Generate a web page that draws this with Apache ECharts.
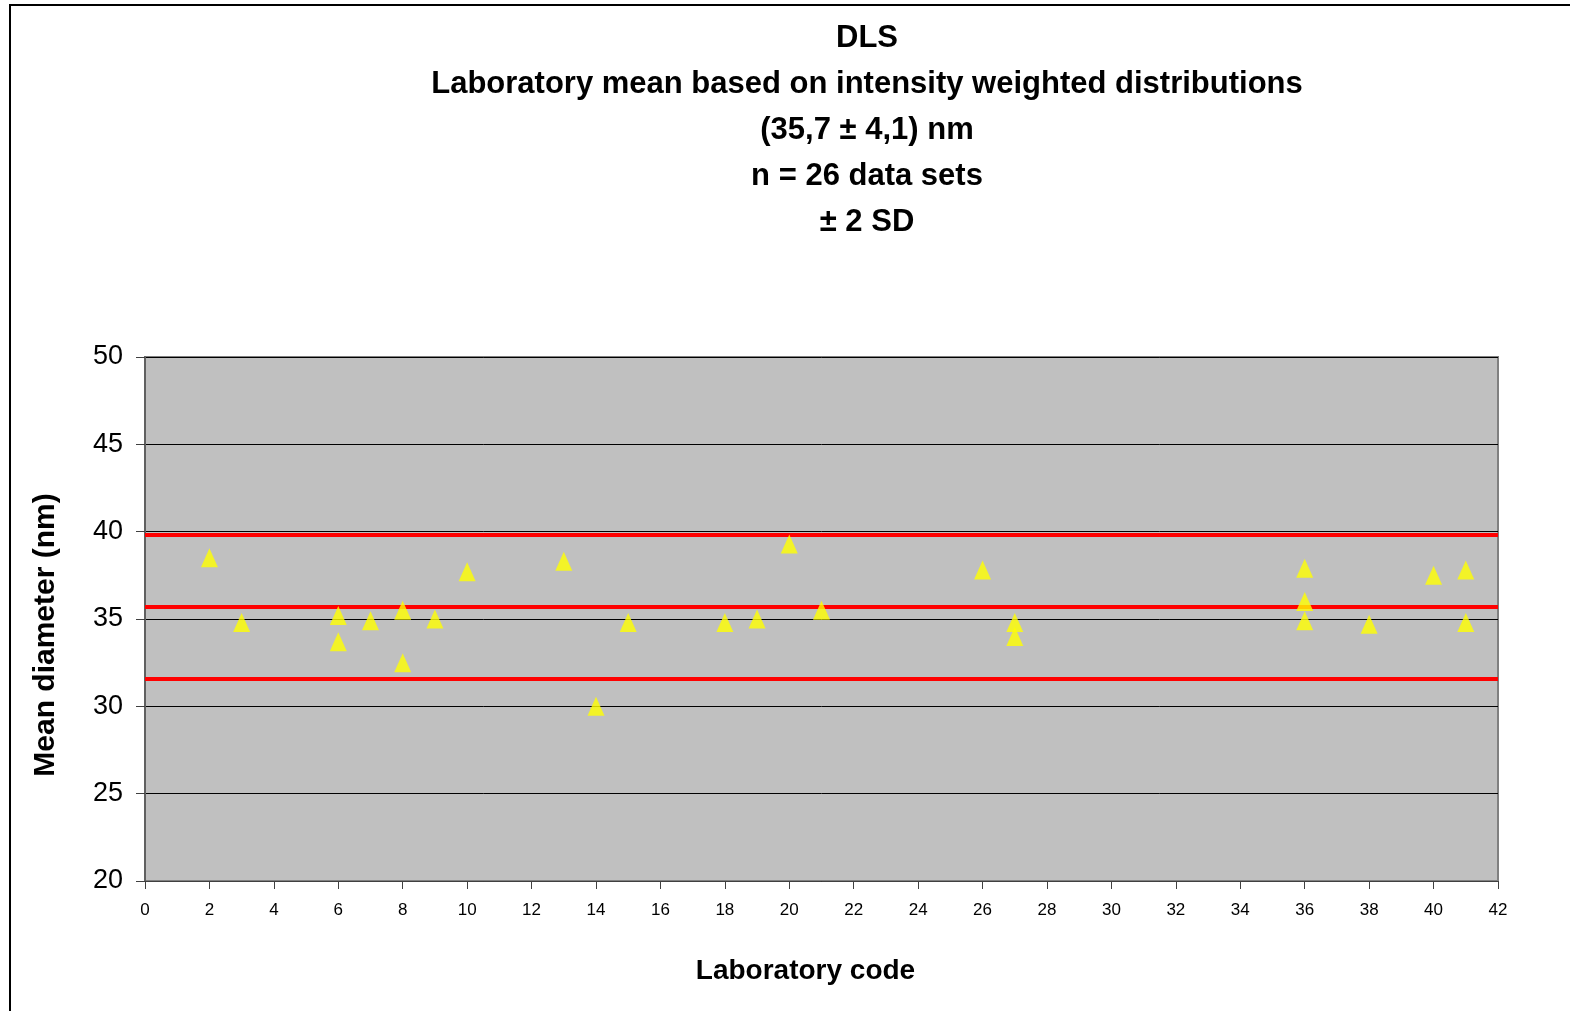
<!DOCTYPE html>
<html>
<head>
<meta charset="utf-8">
<title>DLS</title>
<script src="https://cdn.jsdelivr.net/npm/echarts@6/dist/echarts.min.js"></script>
<style>
  html, body { margin: 0; padding: 0; background: #fff; }
  #main { width: 1570px; height: 1011px; }
</style>
</head>
<body>
<div id="main"></div>
<script>
// laboratory code and mean diameter (nm)
var labCodes = [2, 3, 6, 6, 7, 8, 8, 9, 10, 13, 14, 15, 18, 19, 20, 21, 26, 27, 27, 36, 36, 36, 38, 40, 41, 41];
var meanDiameters = [38.5, 34.8, 35.2, 33.7, 34.9, 35.5, 32.5, 35.0, 37.7, 38.3, 30.0, 34.8, 34.8, 35.0, 39.3, 35.5, 37.8, 34.8, 34.0, 37.9, 36.0, 34.9, 34.7, 37.5, 37.8, 34.8];
// mean +2 SD, mean, mean -2 SD
var limitValues = [39.8, 35.7, 31.6];

var titleLines = [
  'DLS',
  'Laboratory mean based on intensity weighted distributions',
  '(35,7 ± 4,1) nm',
  'n = 26 data sets',
  '± 2 SD'
];

var points = labCodes.map(function (c, i) { return [c, meanDiameters[i]]; });

var font = 'Liberation Sans, Arial, sans-serif';

var myChart = echarts.init(document.getElementById('main'));
myChart.setOption({
  animation: false,
  backgroundColor: '#fff',
  graphic: [{
    type: 'rect',
    shape: { x: 10, y: 5, width: 1600, height: 1050 },
    style: { fill: 'none', stroke: '#000', lineWidth: 2 },
    silent: true
  }],
  title: {
    text: titleLines.join('\n'),
    left: 862,
    top: 10,
    textAlign: 'center',
    textStyle: {
      fontFamily: font,
      fontSize: 31,
      fontWeight: 'bold',
      color: '#000',
      lineHeight: 46
    }
  },
  grid: {
    left: 145, right: 72, top: 357, bottom: 130,
    show: true,
    backgroundColor: '#C0C0C0',
    borderColor: '#808080',
    borderWidth: 2
  },
  xAxis: {
    type: 'value',
    min: 0, max: 42, interval: 2,
    name: 'Laboratory code',
    nameLocation: 'middle',
    nameGap: 76,
    nameTextStyle: { fontFamily: font, fontSize: 28, fontWeight: 'bold', color: '#000', padding: [0, 32, 0, 0] },
    axisLine: { show: true, onZero: false, lineStyle: { color: '#404040', width: 1 } },
    axisTick: { show: true, length: 8, lineStyle: { color: '#404040' } },
    axisLabel: { fontFamily: font, fontSize: 17, color: '#000', margin: 21 },
    splitLine: { show: false }
  },
  yAxis: {
    type: 'value',
    min: 20, max: 50, interval: 5,
    name: 'Mean diameter (nm)',
    nameLocation: 'middle',
    nameGap: 84,
    nameTextStyle: { fontFamily: font, fontSize: 30, fontWeight: 'bold', color: '#000', padding: [0, 32, 0, 0] },
    axisLine: { show: true, lineStyle: { color: '#606060', width: 2 } },
    axisTick: { show: true, length: 9, lineStyle: { color: '#404040' } },
    axisLabel: { fontFamily: font, fontSize: 27, color: '#000', margin: 22 },
    splitLine: { show: true, lineStyle: { color: '#000', width: 1 } }
  },
  series: [{
    name: 'Mean diameter',
    type: 'scatter',
    symbol: 'triangle',
    symbolSize: [17, 19],
    itemStyle: { color: '#FFFF00' },
    data: points,
    z: 3,
    markLine: {
      silent: true,
      symbol: 'none',
      label: { show: false },
      lineStyle: { color: '#FF0000', width: 4, type: 'solid' },
      data: limitValues.map(function (v) { return { yAxis: v }; }),
      z: 2
    }
  }]
});
</script>
</body>
</html>
